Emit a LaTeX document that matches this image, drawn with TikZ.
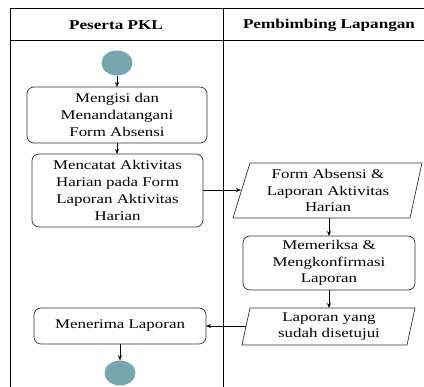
\documentclass[tikz,border=0pt]{standalone}
\usepackage{fontspec}
\setmainfont[FakeStretch=1.27]{Liberation Serif}
\usetikzlibrary{arrows.meta,shapes.geometric}
\definecolor{nodeteal}{HTML}{78A6AF}
\tikzset{
  lane/.style={draw=black,line width=0.7pt},
  act/.style={draw=black!80,rounded corners=7pt,line width=0.7pt},
  io/.style={draw=black!80,line width=0.7pt},
  txt/.style={align=center,inner sep=0pt,font=\fontsize{13.3}{16.8}\selectfont},
  dot/.style={fill=nodeteal,draw=none,ellipse},
  flow/.style={-{Stealth[length=5pt,width=4pt]},line width=0.6pt},
  hdr/.style={font=\fontsize{13.5}{15}\selectfont\bfseries}
}
\begin{document}
\begin{tikzpicture}[x=1pt,y=-1pt]
\useasboundingbox (0,0) rectangle (424,387);
% swimlane frame
\draw[lane] (10,387) -- (10,8) -- (424,8);
\draw[lane] (10,40) -- (424,40);
\draw[lane] (223,8) -- (223,387);
\node[hdr] (h1) at (116,25) {Peserta PKL};
\node[hdr] (h2) at (329,25) {Pembimbing Lapangan};
% start / end
\node[dot,minimum width=31pt,minimum height=25pt] (start) at (117,63) {};
\node[dot,minimum width=31pt,minimum height=25pt] (end) at (120,373) {};
% activities
\path[act] (27,87) rectangle (207,143);
\node[txt] (a1) at (117,115)
  {Mengisi dan\\Menandatangani\\Form Absensi};
\path[act] (32,154) rectangle (203,227);
\node[txt] (a2) at (117.5,190.5)
  {Mencatat Aktivitas\\Harian pada Form\\Laporan Aktivitas\\Harian};
\path[act] (243,236) rectangle (415,290);
\node[txt] (a3) at (329,263)
  {Memeriksa \&\\Mengkonfirmasi\\Laporan};
\path[act] (34,308) rectangle (206,344);
\node[txt] (a4) at (120,326)
  {Menerima Laporan};
% data objects
\path[io] (250,163) -- (422,163) -- (410,218) -- (233,218) -- cycle;
\node[txt] (d1) at (328,190.5)
  {Form Absensi \&\\Laporan Aktivitas\\Harian};
\path[io] (250,308) -- (415,308) -- (407,345) -- (242,345) -- cycle;
\node[txt] (d2) at (329,326.5)
  {Laporan yang\\sudah disetujui};
% named anchors on the box borders
\coordinate (a1t) at (117,87);  \coordinate (a1b) at (117,143);
\coordinate (a2t) at (117,154); \coordinate (a2r) at (203,190);
\coordinate (d1l) at (241,190); \coordinate (d1b) at (329,218);
\coordinate (a3t) at (329,236); \coordinate (a3b) at (329,290);
\coordinate (d2t) at (329,308); \coordinate (d2l) at (246,326);
\coordinate (a4r) at (206,326); \coordinate (a4b) at (120,344);
% flows
\draw[flow] (start) -- (a1t);
\draw[flow] (a1b) -- (a2t);
\draw[flow] (a2r) -- (d1l);
\draw[flow] (d1b) -- (a3t);
\draw[flow] (a3b) -- (d2t);
\draw[flow] (d2l) -- (a4r);
\draw[flow] (a4b) -- (end);
\end{tikzpicture}
\end{document}
